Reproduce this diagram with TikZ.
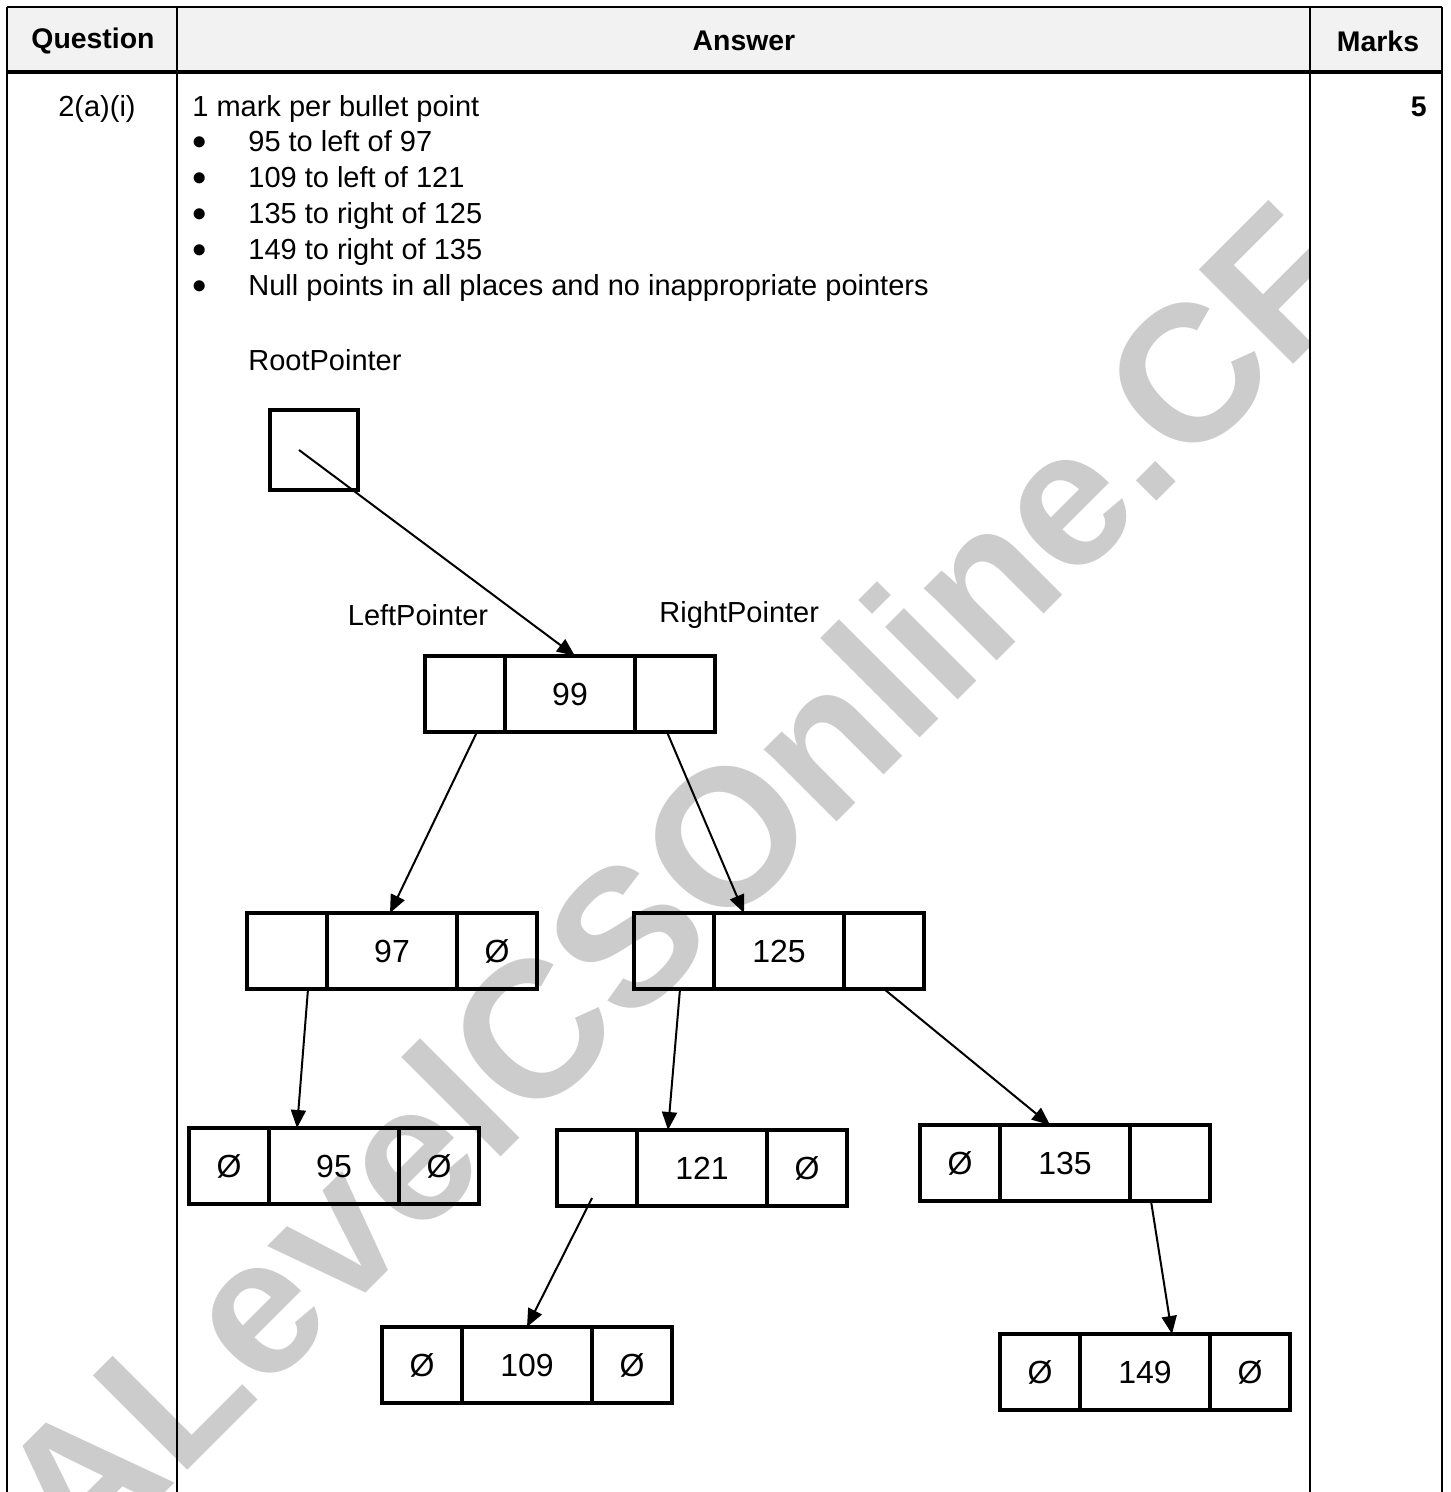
\documentclass[tikz,border=0pt]{standalone}
\usepackage{fontspec}
\setmainfont{Liberation Sans}
\usetikzlibrary{positioning, arrows.meta}
\definecolor{headgray}{RGB}{242,242,242}
\definecolor{markgray}{RGB}{204,204,204}

\begin{document}
\begin{tikzpicture}[x=0.5pt, y=-0.5pt, >={Triangle[length=9pt,width=7.5pt]}]
  % Set the styles
  \tikzset{
    txt/.style={font=\fontsize{14.5}{17}\selectfont, inner sep=0pt},
    head/.style={inner sep=0pt, font=\fontsize{14.2}{17}\selectfont\bfseries},
    cell/.style={draw, line width=2pt, minimum height=38pt, outer sep=0pt,
      inner sep=0pt, font=\fontsize{16}{19}\selectfont},
    link/.style={->, line width=1pt},
    rule/.style={line width=1pt}
  }
  \useasboundingbox (0,0) rectangle (1450,1492);

  % Header band
  \fill[headgray] (7,7) rectangle (1442,72);

  % Watermark
  \begin{scope}
    \clip (0,0) rectangle (1310,1492);
    \node[text=markgray, font=\fontsize{97}{97}\selectfont\bfseries, rotate=45]
      (mark) at (675,885) {ALevelCSOnline.CF};
  \end{scope}

  % Table rules
  \draw[rule] (7,7) -- (1442,7);
  \draw[rule, line width=2pt] (7,72) -- (1442,72);
  \foreach \x in {7,177,1310,1442}{
    \draw[rule] (\x,7) -- (\x,1492);
  }

  % Header and row text
  \node[head] (qhead) at (93,41) {Question};
  \node[head] (ahead) at (744,41) {Answer};
  \node[head] (mhead) at (1378,41) {Marks};
  \node[txt, anchor=base] (qnum) at (97,117) {2(a)(i)};
  \node[head, anchor=base east] (marks) at (1427,117) {5};
  \node[txt, anchor=base west] (intro) at (192,117) {1 mark per bullet point};

  % Draw the bullet points
  \foreach \pointtext [count=\k] in {95 to left of 97, 109 to left of 121,
      135 to right of 125, 149 to right of 135,
      Null points in all places and no inappropriate pointers}{
    \node[txt] (dot\k) at (200,{107+36*\k}) {$\bullet$};
    \node[txt, anchor=base west] (pt\k) at (248,{116+36*\k}) {\pointtext};
  }

  % Root pointer and field labels
  \node[txt, anchor=base west] (rootlabel) at (248,371) {RootPointer};
  \node[cell, minimum width=44pt, minimum height=40pt] (root) at (314,450) {};
  \node[txt] (leftlabel) at (418,615) {LeftPointer};
  \node[txt, anchor=west] (rightlabel) at (659,615) {RightPointer};

  % Draw the tree nodes: left pointer, value, right pointer
  \foreach \nm/\x/\y/\lft/\val/\rgt in {n99/425/656/{}/99/{},
      n97/247/913/{}/97/Ø, n125/634/913/{}/125/{},
      n95/189/1128/Ø/95/Ø, n121/557/1130/{}/121/Ø,
      n135/920/1125/Ø/135/{}, n109/382/1327/Ø/109/Ø,
      n149/1000/1334/Ø/149/Ø}{
    \node[cell, minimum width=40pt] (\nm-l) at ({\x+40},{\y+38}) {\lft};
    \node[cell, minimum width=65pt, right=0pt of \nm-l] (\nm-d) {\val};
    \node[cell, minimum width=40pt, right=0pt of \nm-d] (\nm-r) {\rgt};
  }

  % Connect the pointers
  \draw[link] ([xshift=-7.5pt]root.center) -- ([xshift=2.5pt]n99-d.north);
  \draw[link] ([xshift=6pt]n99-l.south) -- ([xshift=-1pt]n97-d.north);
  \draw[link] ([xshift=-4pt]n99-r.south) -- ([xshift=-17.5pt]n125-d.north);
  \draw[link] ([xshift=10.5pt]n97-l.south) -- ([xshift=-18.5pt]n95-d.north);
  \draw[link] ([xshift=3pt]n125-l.south) -- ([xshift=-17pt]n121-d.north);
  \draw[link] (n125-r.south) -- ([xshift=-7.5pt]n135-d.north);
  \draw[link] ([xshift=-2.5pt,yshift=4pt]n121-l.south) -- (n109-d.north);
  \draw[link] ([xshift=-9.5pt]n135-r.south) -- ([xshift=13.5pt]n149-d.north);
\end{tikzpicture}
\end{document}
